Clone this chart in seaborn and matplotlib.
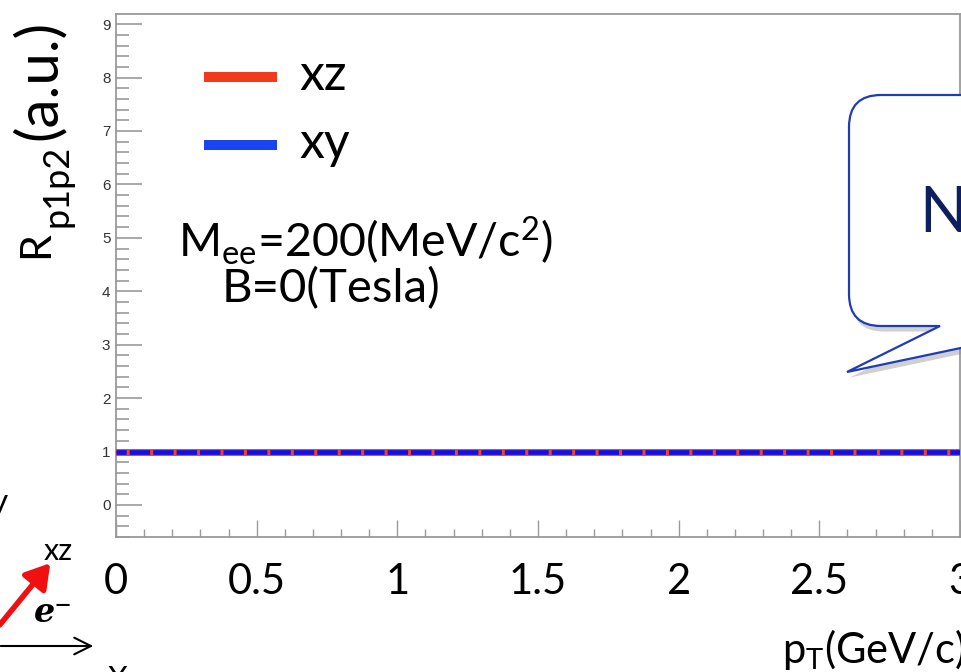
import numpy as np
import pandas as pd
import seaborn as sns
import matplotlib
matplotlib.use("Agg")
import matplotlib.pyplot as plt
from matplotlib.lines import Line2D
from matplotlib.path import Path
from matplotlib.patches import PathPatch, FancyArrowPatch
from matplotlib.transforms import Affine2D
import matplotlib.patheffects as pe

# ---- data -------------------------------------------------------------
pt_edges = [0.0, 0.0833, 0.1667, 0.25, 0.3333, 0.4167, 0.5, 0.5833, 0.6667,
            0.75, 0.8333, 0.9167, 1.0, 1.0833, 1.1667, 1.25, 1.3333, 1.4167,
            1.5, 1.5833, 1.6667, 1.75, 1.8333, 1.9167, 2.0, 2.0833, 2.1667,
            2.25, 2.3333, 2.4167, 2.5, 2.5833, 2.6667, 2.75, 2.8333, 2.9167,
            3.0]
r_xz = [1.0, 1.0, 1.0, 1.0, 1.0, 1.0, 1.0, 1.0, 1.0, 1.0, 1.0, 1.0, 1.0,
        1.0, 1.0, 1.0, 1.0, 1.0, 1.0, 1.0, 1.0, 1.0, 1.0, 1.0, 1.0, 1.0,
        1.0, 1.0, 1.0, 1.0, 1.0, 1.0, 1.0, 1.0, 1.0, 1.0, 1.0]
r_xy = [1.0, 1.0, 1.0, 1.0, 1.0, 1.0, 1.0, 1.0, 1.0, 1.0, 1.0, 1.0, 1.0,
        1.0, 1.0, 1.0, 1.0, 1.0, 1.0, 1.0, 1.0, 1.0, 1.0, 1.0, 1.0, 1.0,
        1.0, 1.0, 1.0, 1.0, 1.0, 1.0, 1.0, 1.0, 1.0, 1.0, 1.0]
series_names = ["xz", "xy"]
x_ticks = [0, 0.5, 1, 1.5, 2, 2.5, 3]
x_ticklabels = ["0", "0.5", "1", "1.5", "2", "2.5", "3"]
y_ticks = [0, 1, 2, 3, 4, 5, 6, 7, 8, 9]

df = pd.DataFrame({"pt": pt_edges + pt_edges,
                   "R": r_xz + r_xy,
                   "plane": ["xz"] * len(pt_edges) + ["xy"] * len(pt_edges)})

# ---- style ------------------------------------------------------------
sns.set_theme(style="white")
plt.rcParams["font.family"] = ["Lato", "DejaVu Sans"]
plt.rcParams["mathtext.default"] = "regular"
plt.rcParams["lines.scale_dashes"] = False

W, H = 961, 672
fig = plt.figure(figsize=(W / 100, H / 100), dpi=100)
fig.patch.set_facecolor("white")

# pixel helper: (x, y) measured from the top-left corner
px = Affine2D().scale(1 / W, -1 / H).translate(0, 1) + fig.transFigure


def ftext(x, y, s, **kw):
    return fig.text(x / W, 1 - y / H, s, **kw)


ax = fig.add_axes([116 / W, 1 - 537 / H, 844 / W, 523 / H])
ax.set_facecolor("white")

red = "#F03A1A"

sns.lineplot(data=df[df.plane == "xz"], x="pt", y="R", ax=ax,
             color="#F04038", linewidth=5.0, drawstyle="steps-post",
             legend=False, zorder=3)
sns.lineplot(data=df[df.plane == "xy"], x="pt", y="R", ax=ax,
             color="#1010E8", linewidth=3.4, drawstyle="steps-post",
             linestyle=(7.37, (14.72, 2.16)), legend=False, zorder=4)

ax.set_xlim(0, 3)
ax.set_ylim(-0.6, 9.19)
ax.set_xlabel("")
ax.set_ylabel("")

for s in ax.spines.values():
    s.set_color("#9a9a9a")
    s.set_linewidth(1.3)

ax.set_xticks(x_ticks)
ax.set_xticklabels(x_ticklabels)
ax.set_xticks(np.arange(0.0, 3.01, 0.1).round(2), minor=True)
ax.set_yticks(y_ticks)
ax.set_yticks(np.arange(-0.6, 9.2, 0.2).round(2), minor=True)

ax.tick_params(axis="x", which="major", direction="in", length=12, width=1,
               color="#9a9a9a", labelsize=30, pad=19, labelcolor="black",
               bottom=True, top=False)
ax.tick_params(axis="x", which="minor", direction="in", length=5.8, width=1,
               color="#9a9a9a", bottom=True, top=False)
ax.tick_params(axis="y", which="major", direction="in", length=18.7, width=1.2,
               color="#9a9a9a", labelsize=11, pad=4, labelcolor="#333333",
               left=True, right=False)
ax.tick_params(axis="y", which="minor", direction="in", length=9.4, width=1.2,
               color="#9a9a9a", left=True, right=False)
for lab in ax.get_yticklabels():
    lab.set_fontfamily(["Liberation Sans", "DejaVu Sans"])

# ---- axis titles --------------------------------------------------------
ykw = dict(rotation=90, rotation_mode="anchor", ha="left", va="baseline",
           color="black")
ftext(48, 258, "R", fontsize=31, **ykw)
ftext(68, 227, "p1p2", fontsize=26, **ykw)
ftext(56, 140, "(a.u.)", fontsize=42, **ykw)

ftext(782, 663, r"p$_{\mathregular{T}}$(GeV/c)",
      ha="left", va="baseline", fontsize=30, color="black")

# ---- legend -------------------------------------------------------------
for (y, col, name) in [(77, red, series_names[0]), (145, "#1A44F0", series_names[1])]:
    fig.add_artist(Line2D([204, 277], [y, y], transform=px, color=col,
                          linewidth=7.2, solid_capstyle="butt"))
    ftext(299, y + 13, name, ha="left", va="baseline",
          fontsize=36, color="black")

ftext(178, 257, r"M$_{\mathregular{ee}}$=200(MeV/c$^{\mathregular{2}}$)",
      ha="left", va="baseline", fontsize=33.5, color="black")
ftext(222, 302, "B=0(Tesla)",
      ha="left", va="baseline", fontsize=34, color="black")

# ---- callout bubble -----------------------------------------------------
r = 32
verts = [(849, 95 + r), (849, 326 - r), (849, 326), (849 + r, 326),
         (940, 326), (847, 372), (1065, 326), (1100, 326), (1100, 95),
         (849 + r, 95), (849, 95), (849, 95 + r), (849, 95 + r)]
codes = [Path.MOVETO, Path.LINETO, Path.CURVE3, Path.CURVE3,
         Path.LINETO, Path.LINETO, Path.LINETO, Path.LINETO, Path.LINETO,
         Path.LINETO, Path.CURVE3, Path.CURVE3, Path.CLOSEPOLY]
bubble = PathPatch(Path(verts, codes), transform=px, facecolor="white",
                   edgecolor="#1F3CB4", linewidth=1.6, zorder=5)
bubble.set_path_effects([pe.SimplePatchShadow(offset=(2, -4), shadow_rgbFace="#8a8a8a",
                                              alpha=0.4), pe.Normal()])
fig.add_artist(bubble)
ftext(919, 232, "N", ha="left", va="baseline",
      fontsize=45, color="#0E1F5E", zorder=6)

# ---- momentum sketch ----------------------------------------------------
ftext(8, 512, "y", ha="right", va="baseline", fontsize=24, color="black")
fig.add_artist(FancyArrowPatch((-2, 627), (52, 561), transform=px,
                               arrowstyle="-|>,head_length=9,head_width=5.5",
                               color="#F01010", linewidth=4.0,
                               mutation_scale=1.6))
fig.add_artist(FancyArrowPatch((-2, 646), (96, 646), transform=px,
                               arrowstyle="->,head_length=10,head_width=5",
                               color="black", linewidth=1.5,
                               mutation_scale=1.2))
ftext(44, 560, "xz", ha="left", va="baseline", fontsize=22, color="black")
ftext(34, 622, "e\u207b", ha="left", va="baseline",
      fontsize=24, color="black", family="DejaVu Serif",
      fontstyle="italic", fontweight="bold")
ftext(108, 665, "X", ha="left", va="top", fontsize=22, color="black")

fig.savefig("out.png", dpi=100, facecolor="white")
